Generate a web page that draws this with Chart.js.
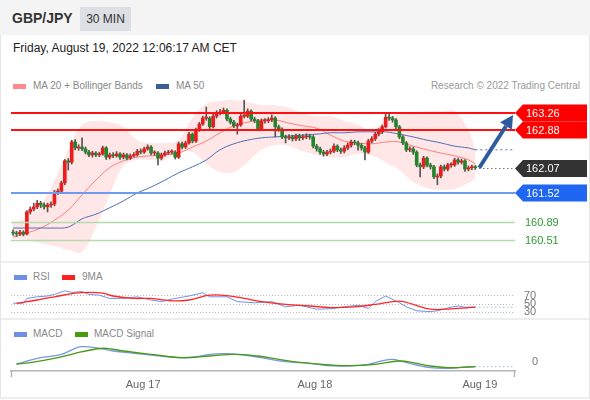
<!DOCTYPE html>
<html>
<head>
<meta charset="utf-8">
<script src="https://cdn.jsdelivr.net/npm/chart.js@4.4.0/dist/chart.umd.min.js"></script>
<style>
  body { margin: 0; width: 590px; height: 400px; position: relative; overflow: hidden; background: #fff;
         font-family: "Liberation Sans", Arial, sans-serif; }
  .abs { position: absolute; }
  #head { left: 0; top: 0; width: 590px; height: 35px; background: #f4f4f4; }
  #pair { left: 12px; top: 10px; font-size: 14px; font-weight: bold; color: #333; }
  #tf { left: 80px; top: 7px; width: 51px; height: 24px; line-height: 24px; text-align: center;
        background: #dcdfe3; font-size: 12px; color: #333; }
  #date { left: 13px; top: 41px; font-size: 12px; color: #222; }
  .lg { font-size: 10px; color: #888; line-height: 12px; }
  .sw { width: 13px; height: 5px; }
  .sep { left: 0; width: 590px; height: 2px; background: #eceef1; }
  .side { top: 35px; width: 1px; height: 363px; background: #e6e6e6; }
  canvas { position: absolute; left: 0; }
</style>
</head>
<body>
<div class="abs" id="head"></div>
<div class="abs" id="pair">GBP/JPY</div>
<div class="abs" id="tf">30 MIN</div>
<div class="abs" id="date">Friday, August 19, 2022 12:06:17 AM CET</div>

<div class="abs sw" style="left:13px;top:84px;background:#ff8a8a"></div>
<div class="abs lg" style="left:33px;top:80px">MA 20 + Bollinger Bands</div>
<div class="abs sw" style="left:156px;top:84px;background:#3c5d9c"></div>
<div class="abs lg" style="left:176px;top:80px">MA 50</div>
<div class="abs lg" style="right:10px;top:80px;color:#9a9a9a">Research © 2022 Trading Central</div>

<div class="abs sep" style="top:261px"></div>
<div class="abs sw" style="left:14px;top:275px;background:#6e8fe3"></div>
<div class="abs lg" style="left:33px;top:271px">RSI</div>
<div class="abs sw" style="left:62px;top:275px;background:#ff1f1f"></div>
<div class="abs lg" style="left:82px;top:271px">9MA</div>

<div class="abs sep" style="top:318px"></div>
<div class="abs sw" style="left:14px;top:332px;background:#6e8fe3"></div>
<div class="abs lg" style="left:33px;top:328px">MACD</div>
<div class="abs sw" style="left:75px;top:332px;background:#4a9a12"></div>
<div class="abs lg" style="left:94px;top:328px">MACD Signal</div>

<div class="abs sep" style="top:397px"></div>
<div class="abs side" style="left:0"></div>
<div class="abs side" style="left:589px"></div>

<canvas id="price" width="590" height="161" style="top:97px"></canvas>
<canvas id="rsi" width="590" height="34" style="top:284px"></canvas>
<canvas id="macd" width="590" height="58" style="top:337px"></canvas>

<script>
// --Candles (30 min bars, oldest first)-- //
const opens = [
  160.67,160.65,160.63,160.67,160.63,161.11,161.17,161.22,161.30,161.26,
  161.22,161.26,161.28,161.54,161.56,161.74,162.22,162.19,162.63,162.50,
  162.52,162.48,162.41,162.35,162.39,162.35,162.37,162.50,162.30,162.35,
  162.33,162.37,162.30,162.35,162.28,162.33,162.35,162.43,162.41,162.48,
  162.52,162.39,162.39,162.28,162.35,162.39,162.41,162.41,162.30,162.59,
  162.52,162.61,162.80,162.65,162.89,163.02,163.15,163.15,162.96,163.19,
  163.26,163.28,163.32,163.13,163.06,162.98,163.00,163.19,163.19,163.30,
  163.13,163.09,162.91,163.09,163.09,163.11,163.15,162.96,162.91,162.74,
  162.72,162.74,162.70,162.76,162.72,162.74,162.76,162.74,162.54,162.48,
  162.41,162.37,162.41,162.43,162.54,162.46,162.43,162.50,162.56,162.63,
  162.61,162.56,162.50,162.41,162.65,162.70,162.80,162.85,162.96,163.17,
  163.15,163.11,162.96,162.74,162.61,162.46,162.48,162.41,162.13,162.09,
  162.28,162.13,162.09,161.87,161.89,162.09,162.04,162.13,162.13,162.24,
  162.19,162.22,162.04,162.07,162.09
];
const closes = [
  160.65,160.63,160.67,160.63,161.11,161.17,161.22,161.30,161.26,161.22,
  161.26,161.28,161.54,161.56,161.74,162.22,162.19,162.63,162.50,162.52,
  162.48,162.41,162.35,162.39,162.35,162.37,162.50,162.30,162.35,162.33,
  162.37,162.30,162.35,162.28,162.33,162.35,162.43,162.41,162.48,162.52,
  162.39,162.39,162.28,162.35,162.39,162.41,162.41,162.30,162.59,162.52,
  162.61,162.80,162.65,162.89,163.02,163.15,163.15,162.96,163.19,163.26,
  163.28,163.32,163.13,163.06,162.98,163.00,163.19,163.19,163.30,163.13,
  163.09,162.91,163.09,163.09,163.11,163.15,162.96,162.91,162.74,162.72,
  162.74,162.70,162.76,162.72,162.74,162.76,162.74,162.54,162.48,162.41,
  162.37,162.41,162.43,162.54,162.46,162.43,162.50,162.56,162.63,162.61,
  162.56,162.50,162.41,162.65,162.70,162.80,162.85,162.96,163.17,163.15,
  163.11,162.96,162.74,162.61,162.46,162.48,162.41,162.13,162.09,162.28,
  162.13,162.09,161.87,161.89,162.09,162.04,162.13,162.13,162.24,162.19,
  162.22,162.04,162.07,162.09,162.07
];
const highs = [
  160.72,160.69,160.71,160.70,161.14,161.22,161.30,161.36,161.34,161.31,
  161.30,161.33,161.58,161.61,161.78,162.25,162.27,162.67,162.68,162.57,
  162.72,162.52,162.45,162.43,162.42,162.41,162.54,162.53,162.39,162.40,
  162.42,162.40,162.39,162.38,162.37,162.40,162.47,162.48,162.52,162.57,
  162.55,162.44,162.42,162.39,162.43,162.45,162.46,162.44,162.63,162.63,
  162.65,162.84,162.83,162.93,163.06,163.19,163.39,163.18,163.23,163.31,
  163.34,163.37,163.35,163.17,163.10,163.04,163.23,163.54,163.35,163.33,
  163.17,163.12,163.13,163.14,163.16,163.22,163.18,163.00,162.94,162.78,
  162.79,162.78,162.80,162.80,162.79,162.81,162.80,162.77,162.58,162.52,
  162.45,162.45,162.48,162.59,162.57,162.50,162.55,162.61,162.67,162.67,
  162.65,162.60,162.54,162.69,162.75,162.84,162.92,163.00,163.26,163.26,
  163.19,163.14,162.99,162.77,162.64,162.53,162.52,162.44,162.17,162.32,
  162.31,162.17,162.12,161.94,162.13,162.13,162.17,162.18,162.28,162.28,
  162.26,162.25,162.11,162.13,162.12
];
const lows = [
  160.60,160.58,160.60,160.59,160.61,161.06,161.13,161.18,161.20,161.17,
  161.11,161.21,161.24,161.49,161.52,161.70,162.02,162.15,162.46,162.45,
  162.44,162.37,162.31,162.30,162.31,162.31,162.34,162.25,162.26,162.29,
  162.30,162.25,162.26,162.24,162.25,162.30,162.32,162.37,162.38,162.45,
  162.35,162.34,162.13,162.24,162.32,162.36,162.37,162.26,162.27,162.48,
  162.49,162.58,162.61,162.62,162.86,162.99,163.10,162.92,162.93,163.15,
  163.22,163.24,163.09,163.02,162.94,162.80,162.97,163.15,163.16,163.09,
  163.05,162.87,162.88,163.04,163.05,163.07,162.74,162.86,162.70,162.61,
  162.68,162.65,162.66,162.66,162.68,162.70,162.69,162.50,162.43,162.36,
  162.32,162.33,162.37,162.40,162.42,162.38,162.39,162.46,162.52,162.57,
  162.45,162.45,162.24,162.38,162.61,162.66,162.76,162.81,162.93,163.10,
  163.06,162.92,162.70,162.57,162.42,162.42,162.36,162.09,161.87,162.05,
  162.09,162.04,161.83,161.70,161.85,162.00,162.00,162.08,162.10,162.15,
  162.15,161.99,162.00,162.03,162.03
];

// --Moving averages and Bollinger bands, read every 4 bars-- //
const bandIdx = [0,4,8,12,16,20,24,28,32,36,40,44,48,52,56,60,64,68,72,76,80,84,88,92,96,100,104,108,112,116,120,124,128,132,134];
const bandUpper = [160.89,160.98,161.26,161.80,162.46,163.00,163.09,163.06,162.96,162.67,162.61,162.61,162.67,163.15,163.46,163.52,163.54,163.50,163.43,163.43,163.37,163.26,163.19,163.19,163.09,163.00,162.89,163.11,163.24,163.28,163.30,163.30,163.30,162.89,162.46];
const bandLower = [160.54,160.50,160.43,160.37,160.28,160.24,160.78,161.48,162.11,162.24,162.24,162.24,162.39,162.41,162.15,161.98,161.98,162.19,162.46,162.56,162.54,162.43,162.35,162.30,162.30,162.37,162.33,162.19,162.02,161.76,161.63,161.59,161.61,161.74,161.83];
const ma20 = [160.56,160.65,160.76,160.93,161.15,161.48,161.80,162.07,162.22,162.30,162.33,162.35,162.39,162.52,162.65,162.83,162.98,163.06,163.11,163.11,163.04,162.98,162.93,162.78,162.65,162.61,162.59,162.63,162.63,162.54,162.46,162.39,162.33,162.24,162.15];
const ma50 = [160.76,160.76,160.76,160.76,160.78,160.96,161.06,161.20,161.35,161.52,161.65,161.80,161.96,162.09,162.24,162.46,162.59,162.67,162.72,162.74,162.76,162.78,162.80,162.83,162.83,162.85,162.85,162.85,162.80,162.74,162.67,162.61,162.54,162.50,162.46];

// --Key levels-- //
const levelValues = [163.26, 162.88, 162.07, 161.52, 160.89, 160.51];
const levelKinds = ['res', 'res', 'last', 'sup', 'sub', 'sub'];

// --RSI panel-- //
const rsiIdx = [0,3,4,7,10,12,15,17,20,22,25,28,32,36,40,43,47,51,55,57,62,65,70,75,79,83,88,92,96,100,103,105,108,112,114,117,121,123,127,129,131,134];
const rsiVals = [52,52,64,68,70,74,83,79,81,74,72,64,64,68,60,56,64,70,78,68,68,56,53,56,43,47,37,38,43,47,39,56,70,53,43,33,31,33,42,45,42,42];
const rsiMaIdx = [1,7,12,18,22,26,29,35,40,46,51,57,62,67,72,79,86,92,99,105,112,116,121,127,134];
const rsiMaVals = [52,60,68,77,79,77,70,64,64,58,60,72,71,64,56,49,45,41,43,49,57,49,37,38,42];
const rsiLevels = [30, 50, 70];

// --MACD panel-- //
const macdIdx = [1,7,14,18,20,25,29,35,40,48,53,57,62,67,72,79,86,91,97,103,106,110,113,117,121,126,130,134];
const macdVals = [-0.02,0.037,0.077,0.137,0.153,0.137,0.11,0.087,0.07,0.043,0.053,0.077,0.083,0.07,0.043,0.003,-0.013,-0.037,-0.04,-0.023,0.003,0.027,0.003,-0.03,-0.057,-0.063,-0.053,-0.047];
const signalIdx = [1,5,13,18,24,27,32,40,49,57,64,71,77,84,92,98,105,112,116,121,126,130,134];
const signalVals = [-0.02,-0.007,0.043,0.087,0.13,0.137,0.11,0.077,0.043,0.06,0.077,0.06,0.027,-0.007,-0.03,-0.037,-0.023,0.01,-0.007,-0.04,-0.057,-0.053,-0.047];

// --Time axis-- //
const dayTicks = [37.7, 87.5, 135.3];
const dayLabels = ['Aug 17', 'Aug 18', 'Aug 19'];
const xMin = -0.6, xMax = 145.5;

Chart.defaults.font.family = '"Liberation Sans", Arial, sans-serif';
Chart.defaults.animation = false;
Chart.defaults.events = [];
Chart.defaults.plugins.legend.display = false;
Chart.defaults.plugins.tooltip.enabled = false;

const xy = (idx, vals) => idx.map((v, k) => ({x: v, y: vals[k]}));
const tail = (idx, vals) => [{x: idx[idx.length - 1], y: vals[vals.length - 1]}, {x: xMax, y: vals[vals.length - 1]}];
const last = closes.length - 1;

// right-hand value axis of the small panels: fixed width, no extra label padding
const sideAxisFit = s => { s.width = 75; s.paddingTop = 0; s.paddingBottom = 0; };

const levelStyle = {
  res: {line: '#ff1010', width: 2, tag: '#ff0000'},
  last: {line: '#333', width: 1, dash: [1, 3], tag: '#333333'},
  sup: {line: '#6d9bf1', width: 2, tag: '#1f66f2'},
  sub: {line: '#b3dbad', width: 1.5, text: '#2f9a2f'}
};

const levelsPlugin = {
  id: 'levels',
  afterDatasetsDraw(chart) {
    const {ctx, chartArea: a, scales: {x, y}} = chart;
    ctx.save();
    levelValues.forEach((v, k) => {
      const st = levelStyle[levelKinds[k]];
      const py = Math.round(y.getPixelForValue(v)) + (st.width % 2 ? 0.5 : 0);
      const x0 = levelKinds[k] === 'last' ? x.getPixelForValue(last) + 4 : a.left;
      ctx.strokeStyle = st.line;
      ctx.lineWidth = st.width;
      ctx.setLineDash(st.dash || []);
      ctx.beginPath(); ctx.moveTo(x0, py); ctx.lineTo(a.right, py); ctx.stroke();
      ctx.setLineDash([]);
      ctx.font = '11px "Liberation Sans", Arial, sans-serif';
      ctx.textBaseline = 'middle';
      if (st.tag) {
        ctx.fillStyle = st.tag;
        ctx.beginPath();
        ctx.moveTo(a.right, py);
        ctx.lineTo(a.right + 8, py - 8.5);
        ctx.lineTo(a.right + 72, py - 8.5);
        ctx.lineTo(a.right + 72, py + 8.5);
        ctx.lineTo(a.right + 8, py + 8.5);
        ctx.closePath();
        ctx.fill();
        ctx.fillStyle = '#fff';
        ctx.fillText(v.toFixed(2), a.right + 11, py + 0.5);
      } else {
        ctx.fillStyle = st.text;
        ctx.fillText(v.toFixed(2), a.right + 10, py + 0.5);
      }
    });

    // arrow from last close up to the first resistance
    const sx = x.getPixelForValue(last) + 4, sy = y.getPixelForValue(closes[last]);
    const ex = a.right - 2, ey = y.getPixelForValue(levelValues[0]) + 2;
    const ang = Math.atan2(ey - sy, ex - sx);
    const bx = ex - 13 * Math.cos(ang), by = ey - 13 * Math.sin(ang);
    ctx.strokeStyle = ctx.fillStyle = '#2d5c9e';
    ctx.lineWidth = 4;
    ctx.beginPath(); ctx.moveTo(sx, sy); ctx.lineTo(bx, by); ctx.stroke();
    ctx.beginPath();
    ctx.moveTo(ex, ey);
    ctx.lineTo(bx + 7 * Math.sin(ang), by - 7 * Math.cos(ang));
    ctx.lineTo(bx - 7 * Math.sin(ang), by + 7 * Math.cos(ang));
    ctx.closePath();
    ctx.fill();
    ctx.restore();
  }
};

new Chart(document.getElementById('price'), {
  type: 'bar',
  data: {
    datasets: [
      {type: 'line', data: xy(bandIdx, bandUpper), fill: '+1', backgroundColor: 'rgba(255,40,40,0.11)',
       borderWidth: 0, pointRadius: 0, tension: 0.4, order: 10},
      {type: 'line', data: xy(bandIdx, bandLower), fill: false, borderWidth: 0, pointRadius: 0, tension: 0.4, order: 10},
      {type: 'line', data: xy(bandIdx, ma20), borderColor: 'rgba(255,90,90,0.75)', borderWidth: 1, pointRadius: 0, tension: 0.4, order: 6},
      {type: 'line', data: xy(bandIdx, ma50), borderColor: '#4a6fb5', borderWidth: 1, pointRadius: 0, tension: 0.4, order: 5},
      {type: 'line', data: tail(bandIdx, ma50), borderColor: '#4a6fb5', borderDash: [2, 3], borderWidth: 1, pointRadius: 0, order: 5},
      {data: lows.map((l, i) => ({x: i, y: [l, highs[i]]})), backgroundColor: '#555', grouped: false,
       barPercentage: 1, categoryPercentage: 1, maxBarThickness: 1, order: 3},
      {data: closes.map((c, i) => ({x: i, y: [opens[i], c]})),
       backgroundColor: closes.map((c, i) => c >= opens[i] ? '#ec1c1c' : '#23852a'),
       grouped: false, barPercentage: 1, categoryPercentage: 1, maxBarThickness: 3, minBarLength: 1, order: 2}
    ]
  },
  options: {
    responsive: false,
    layout: {padding: {left: 11, right: 75, top: 0, bottom: 0}},
    scales: {
      x: {type: 'linear', min: xMin, max: xMax, offset: false, display: false},
      y: {min: 160.108, max: 163.608, display: false}
    }
  },
  plugins: [levelsPlugin]
});

new Chart(document.getElementById('rsi'), {
  type: 'line',
  data: {
    datasets: [
      {data: xy(rsiMaIdx, rsiMaVals), borderColor: '#ff2626', borderWidth: 1.3, pointRadius: 0, tension: 0.4},
      {data: xy(rsiIdx, rsiVals), borderColor: '#7190e6', borderWidth: 1, pointRadius: 0, tension: 0},
      {data: tail(rsiIdx, rsiVals), borderColor: '#7190e6', borderDash: [1, 3], borderWidth: 1, pointRadius: 0}
    ]
  },
  options: {
    responsive: false,
    layout: {padding: {left: 11, top: 0, bottom: 0}},
    scales: {
      x: {type: 'linear', min: xMin, max: xMax, display: false},
      y: {
        position: 'right', min: 15, max: 100,
        afterBuildTicks: s => { s.ticks = rsiLevels.map(v => ({value: v})); },
        afterFit: sideAxisFit,
        grid: {color: '#b8b8b8', drawTicks: false},
        border: {display: false, dash: [1, 2]},
        ticks: {autoSkip: false, padding: 9, color: '#777', font: {size: 11}}
      }
    }
  }
});

const axisCaps = {
  id: 'caps',
  afterDraw(chart) {
    const {ctx, chartArea: a} = chart;
    ctx.save();
    ctx.strokeStyle = '#b5b5b5';
    ctx.lineWidth = 1.5;
    [a.left + 0.5, a.right - 0.5].forEach(px => {
      ctx.beginPath(); ctx.moveTo(px, a.bottom); ctx.lineTo(px, a.bottom + 6); ctx.stroke();
    });
    ctx.restore();
  }
};

new Chart(document.getElementById('macd'), {
  type: 'line',
  data: {
    datasets: [
      {data: xy(signalIdx, signalVals), borderColor: '#4a9a12', borderWidth: 1.3, pointRadius: 0, tension: 0.4},
      {data: xy(macdIdx, macdVals), borderColor: '#7896ea', borderWidth: 1.3, pointRadius: 0, tension: 0.4},
      {data: tail(macdIdx, macdVals), borderColor: '#7896ea', borderDash: [1, 3], borderWidth: 1, pointRadius: 0}
    ]
  },
  options: {
    responsive: false,
    layout: {padding: {left: 11, top: 5, bottom: 0}},
    scales: {
      x: {
        type: 'linear', min: xMin, max: xMax,
        afterBuildTicks: s => { s.ticks = dayTicks.map(v => ({value: v})); },
        afterFit: s => { s.height = 24; },
        grid: {display: true, drawOnChartArea: false, drawTicks: false},
        border: {display: true, color: '#b5b5b5', width: 1.5},
        ticks: {autoSkip: false, maxRotation: 0, padding: 7, color: '#666', font: {size: 11},
                callback: (v, i) => dayLabels[i]}
      },
      y: {
        position: 'right', min: -0.09, max: 0.20,
        afterBuildTicks: s => { s.ticks = [{value: 0}]; },
        afterFit: sideAxisFit,
        grid: {display: false},
        border: {display: false},
        ticks: {padding: 9, color: '#777', font: {size: 11}}
      }
    }
  },
  plugins: [axisCaps]
});
</script>
</body>
</html>
